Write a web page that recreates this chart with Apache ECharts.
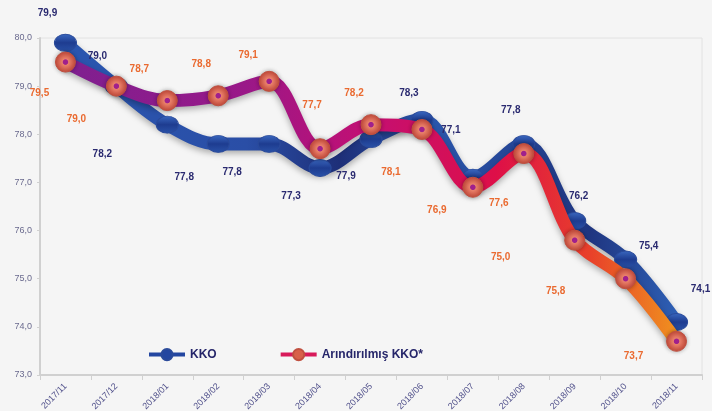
<!DOCTYPE html>
<html>
<head>
<meta charset="utf-8">
<script src="https://cdn.jsdelivr.net/npm/echarts@6/dist/echarts.min.js"></script>
<style>
  html, body { margin: 0; padding: 0; background: #f5f5f5; }
  #chart { width: 712px; height: 411px; }
</style>
</head>
<body>
<div id="chart"></div>
<script>
// data
const months = ['2017/11', '2017/12', '2018/01', '2018/02', '2018/03', '2018/04', '2018/05',
  '2018/06', '2018/07', '2018/08', '2018/09', '2018/10', '2018/11'];
const kko = [79.9, 79.0, 78.2, 77.8, 77.8, 77.3, 77.9, 78.3, 77.1, 77.8, 76.2, 75.4, 74.1];
const kkoClean = [79.5, 79.0, 78.7, 78.8, 79.1, 77.7, 78.2, 78.1, 76.9, 77.6, 75.8, 75.0, 73.7];
const seriesNames = ['KKO', 'Arındırılmış KKO*'];

// label placement (offset from the point, px)
const kkoLabelOff = [[-18, -30], [-19, -30], [-65, 30], [-34, 33], [-37, 28], [-29, 28], [-25, 37],
  [-13, -27], [-22, -47], [-13, -34], [4, -25], [23, -13], [24, -33]];
const cleanLabelOff = [[-26, 31], [-40, 33], [-28, -31], [-17, -32], [-21, -26], [-8, -43], [-17, -31],
  [-31, 43], [-36, 23], [-25, 50], [-19, 51], [-125, -21], [-43, 15]];

const fmt = v => v.toFixed(1).replace('.', ',');

const chart = echarts.init(document.getElementById('chart'));

const blueLine = new echarts.graphic.LinearGradient(0, 0, 1, 0, [
  { offset: 0, color: '#2a56b0' },
  { offset: 0.3, color: '#2a4ea6' },
  { offset: 0.45, color: '#1e2f78' },
  { offset: 0.6, color: '#2a56ac' },
  { offset: 0.85, color: '#1f3580' },
  { offset: 1, color: '#2f62b8' }
]);
const warmLine = new echarts.graphic.LinearGradient(0, 0, 1, 0, [
  { offset: 0, color: '#7d2090' },
  { offset: 0.3, color: '#9a1888' },
  { offset: 0.5, color: '#c40f72' },
  { offset: 0.7, color: '#de0f48' },
  { offset: 0.85, color: '#e8402a' },
  { offset: 1, color: '#f0961e' }
]);
const blueDot = new echarts.graphic.LinearGradient(0, 0, 0, 1, [
  { offset: 0, color: '#3a68c0' },
  { offset: 0.5, color: '#1e3c90' },
  { offset: 1, color: '#2a52a8' }
]);
const warmDot = new echarts.graphic.RadialGradient(0.5, 0.5, 0.5, [
  { offset: 0, color: '#a0208c' },
  { offset: 0.22, color: '#a0208c' },
  { offset: 0.3, color: '#e8806a' },
  { offset: 1, color: '#c84a3a' }
]);

const option = {
  backgroundColor: '#f5f5f5',
  animation: false,
  grid: {
    left: 40, right: 10, top: 38, bottom: 36,
    outerBoundsMode: 'none',
    show: true, borderColor: '#e2e2e2', borderWidth: 1
  },
  legend: {
    left: 142,
    top: 343,
    itemWidth: 36,
    itemHeight: 14,
    itemGap: 62,
    textStyle: { color: '#26266a', fontWeight: 'bold', fontSize: 12, fontFamily: 'Liberation Sans' },
    data: [
      { name: seriesNames[0], itemStyle: { color: '#2346a0' }, lineStyle: { color: '#2346a0', width: 4 } },
      { name: seriesNames[1], itemStyle: { color: '#d8604a' }, lineStyle: { color: '#d81a5a', width: 4 } }
    ]
  },
  xAxis: {
    type: 'category',
    data: months,
    boundaryGap: true,
    axisLine: { lineStyle: { color: '#d0d0d0', width: 2 } },
    axisTick: { show: true, lineStyle: { color: '#d0d0d0' } },
    axisLabel: { rotate: 45, fontSize: 9, color: '#52528c', margin: 10, fontFamily: 'Liberation Sans' },
    splitLine: { show: false }
  },
  yAxis: {
    type: 'value',
    min: 73,
    max: 80,
    interval: 1,
    axisLine: { show: true, lineStyle: { color: '#d0d0d0', width: 2 } },
    axisTick: { show: true, length: 3, lineStyle: { color: '#d0d0d0' } },
    axisLabel: { formatter: fmt, fontSize: 9, color: '#6a6a8e', margin: 8, fontFamily: 'Liberation Sans' },
    splitLine: { show: false }
  },
  series: [
    {
      name: seriesNames[0],
      type: 'line',
      smooth: 0.35,
      z: 2,
      symbol: 'circle',
      symbolSize: [22, 17],
      lineStyle: { width: 13, color: blueLine, shadowBlur: 6, shadowColor: 'rgba(0,0,0,0.3)', shadowOffsetY: 3 },
      itemStyle: { color: blueDot, borderColor: '#2a4a9a', borderWidth: 1 },
      label: {
        show: true,
        position: 'inside',
        formatter: p => fmt(p.value),
        color: '#2a2a70',
        fontWeight: 'bold',
        fontSize: 10,
        fontFamily: 'Liberation Sans'
      },
      data: kko.map((v, i) => ({ value: v, label: { offset: kkoLabelOff[i] } }))
    },
    {
      name: seriesNames[1],
      type: 'line',
      smooth: 0.35,
      z: 3,
      symbol: 'circle',
      symbolSize: 20,
      lineStyle: { width: 13, color: warmLine, shadowBlur: 6, shadowColor: 'rgba(0,0,0,0.3)', shadowOffsetY: 3 },
      itemStyle: { color: warmDot, borderColor: '#c05040', borderWidth: 1, shadowBlur: 4, shadowColor: 'rgba(0,0,0,0.3)' },
      label: {
        show: true,
        position: 'inside',
        formatter: p => fmt(p.value),
        color: '#ea6a30',
        fontWeight: 'bold',
        fontSize: 10,
        fontFamily: 'Liberation Sans'
      },
      data: kkoClean.map((v, i) => ({ value: v, label: { offset: cleanLabelOff[i] } }))
    }
  ]
};

chart.setOption(option);
</script>
</body>
</html>
